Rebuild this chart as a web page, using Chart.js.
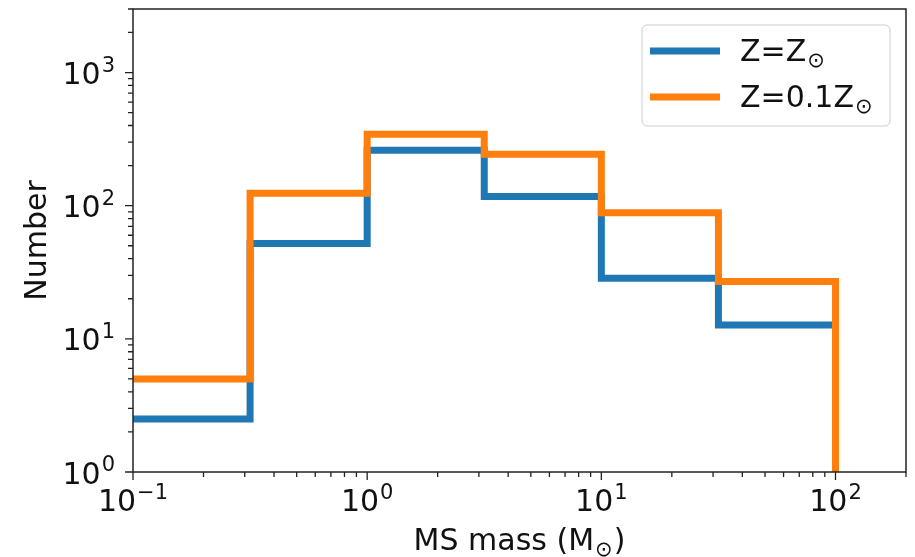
<!DOCTYPE html>
<html>
<head>
<meta charset="utf-8">
<script src="https://cdn.jsdelivr.net/npm/chart.js@4"></script>
<style>
body { margin: 0; background: #fff; }
#wrap { width: 915px; height: 557px; position: relative; }
</style>
</head>
<body>
<div id="wrap"><canvas id="msmass"></canvas></div>
<script>
// histogram bins (log spaced) and counts
var binEdges = [0.1, 0.3162, 1, 3.162, 10, 31.62, 100];
var countsSolar = [2.5, 52, 261, 117, 28.5, 12.7];
var countsLowZ = [5, 124, 344, 243, 88.5, 27];
var seriesNames = ['Z=Z', 'Z=0.1Z'];
var seriesColors = ['#1f77b4', '#ff7f0e'];

var xTickValues = [0.1, 1, 10, 100];
var xTickExps = ['\u22121', '0', '1', '2'];
var yTickValues = [1, 10, 100, 1000];
var yTickExps = ['0', '1', '2', '3'];
var xRange = [0.1, 200];
var yRange = [1, 3000];

var xTitle = 'MS mass (M';
var yTitle = 'Number';
var sun = '\u2299';
var FONT = "'DejaVu Sans', sans-serif";
var INK = '#111';

function stepPoints(edges, counts) {
    var pts = [];
    for (var i = 0; i < counts.length; i++) {
        pts.push({x: edges[i], y: counts[i]});
    }
    // drop back down to the axis at the last edge
    pts.push({x: edges[edges.length - 1], y: yRange[0]});
    return pts;
}

// 10^n label, anchored by align
function drawPow(ctx, exp, x, y, align) {
    ctx.font = '30px ' + FONT;
    var wb = ctx.measureText('10').width;
    ctx.font = '21px ' + FONT;
    var we = ctx.measureText(exp).width;
    var total = wb + 1 + we;
    var x0 = align == 'right' ? x - total : x - total / 2;
    ctx.textAlign = 'left';
    ctx.textBaseline = 'alphabetic';
    ctx.font = '30px ' + FONT;
    ctx.fillText('10', x0, y);
    ctx.font = '21px ' + FONT;
    ctx.fillText(exp, x0 + wb + 1, y - 12.5);
}

// text followed by a subscript sun symbol, returns end x
function drawSun(ctx, text, x, y, size) {
    ctx.textAlign = 'left';
    ctx.textBaseline = 'alphabetic';
    ctx.font = size + 'px ' + FONT;
    ctx.fillText(text, x, y);
    var w = ctx.measureText(text).width;
    ctx.font = Math.round(size * 0.7) + 'px ' + FONT;
    ctx.fillText(sun, x + w + 1, y + size * 0.2);
    return x + w + 1 + ctx.measureText(sun).width;
}

function minorTicks(lo, hi) {
    var out = [];
    for (var d = Math.floor(Math.log10(lo)); d <= Math.ceil(Math.log10(hi)); d++) {
        for (var k = 2; k <= 9; k++) {
            var v = k * Math.pow(10, d);
            if (v >= lo - 1e-9 && v <= hi + 1e-9) out.push(v);
        }
    }
    return out;
}

var axesDeco = {
    id: 'axesDeco',
    afterDraw: function (chart) {
        var ctx = chart.ctx;
        var a = chart.chartArea;
        var xs = chart.scales.x, ys = chart.scales.y;
        ctx.save();

        // spines
        ctx.strokeStyle = '#222';
        ctx.lineWidth = 1.5;
        ctx.strokeRect(a.left, a.top, a.right - a.left, a.bottom - a.top);

        // tick marks
        ctx.lineWidth = 1.3;
        ctx.beginPath();
        xTickValues.forEach(function (v) {
            var px = xs.getPixelForValue(v);
            ctx.moveTo(px, a.bottom); ctx.lineTo(px, a.bottom + 8);
        });
        minorTicks(xRange[0], xRange[1]).forEach(function (v) {
            var px = xs.getPixelForValue(v);
            ctx.moveTo(px, a.bottom); ctx.lineTo(px, a.bottom + 5);
        });
        yTickValues.forEach(function (v) {
            var py = ys.getPixelForValue(v);
            ctx.moveTo(a.left, py); ctx.lineTo(a.left - 8, py);
        });
        minorTicks(yRange[0], yRange[1]).forEach(function (v) {
            var py = ys.getPixelForValue(v);
            ctx.moveTo(a.left, py); ctx.lineTo(a.left - 5, py);
        });
        ctx.stroke();

        // tick labels
        ctx.fillStyle = INK;
        xTickValues.forEach(function (v, i) {
            drawPow(ctx, xTickExps[i], xs.getPixelForValue(v), a.bottom + 39, 'center');
        });
        yTickValues.forEach(function (v, i) {
            drawPow(ctx, yTickExps[i], a.left - 18, ys.getPixelForValue(v) + 11.5, 'right');
        });

        // axis titles
        ctx.font = '30px ' + FONT;
        var wTitle = ctx.measureText(xTitle).width;
        var wClose = ctx.measureText(')').width;
        ctx.font = '21px ' + FONT;
        var wSun = ctx.measureText(sun).width;
        var xc = (a.left + a.right) / 2;
        var xEnd = drawSun(ctx, xTitle, xc - (wTitle + wSun + wClose + 2) / 2, 550, 30);
        ctx.font = '30px ' + FONT;
        ctx.fillText(')', xEnd + 1, 550);

        ctx.save();
        ctx.translate(46, (a.top + a.bottom) / 2);
        ctx.rotate(-Math.PI / 2);
        ctx.textAlign = 'center';
        ctx.font = '30px ' + FONT;
        ctx.fillText(yTitle, 0, 0);
        ctx.restore();

        // legend box, upper right
        ctx.fillStyle = 'rgba(255,255,255,0.8)';
        ctx.strokeStyle = '#cccccc';
        ctx.lineWidth = 1;
        ctx.beginPath();
        ctx.roundRect(642, 25, 248, 101, 5);
        ctx.fill();
        ctx.stroke();
        var rows = [51, 97];
        seriesNames.forEach(function (name, i) {
            ctx.strokeStyle = seriesColors[i];
            ctx.lineWidth = 7;
            ctx.beginPath();
            ctx.moveTo(650, rows[i]);
            ctx.lineTo(720, rows[i]);
            ctx.stroke();
            ctx.fillStyle = INK;
            drawSun(ctx, name, 740, rows[i] + 10, 30);
        });

        ctx.restore();
    }
};

function makeSet(label, counts, color, order) {
    return {
        label: label,
        data: stepPoints(binEdges, counts),
        borderColor: color,
        backgroundColor: color,
        borderWidth: 7,
        borderCapStyle: 'butt',
        borderJoinStyle: 'miter',
        stepped: 'before',
        pointRadius: 0,
        fill: false,
        clip: 0,
        order: order
    };
}

var chart = new Chart(document.getElementById('msmass'), {
    type: 'line',
    data: {
        datasets: [
            makeSet(seriesNames[0], countsSolar, seriesColors[0], 2),
            makeSet(seriesNames[1], countsLowZ, seriesColors[1], 1)
        ]
    },
    options: {
        responsive: true,
        maintainAspectRatio: false,
        animation: false,
        layout: { padding: { left: 133, top: 9, right: 9, bottom: 85 } },
        plugins: { legend: { display: false }, tooltip: { enabled: false } },
        scales: {
            x: { type: 'logarithmic', min: xRange[0], max: xRange[1], display: false },
            y: { type: 'logarithmic', min: yRange[0], max: yRange[1], display: false }
        }
    },
    plugins: [axesDeco]
});
</script>
</body>
</html>
